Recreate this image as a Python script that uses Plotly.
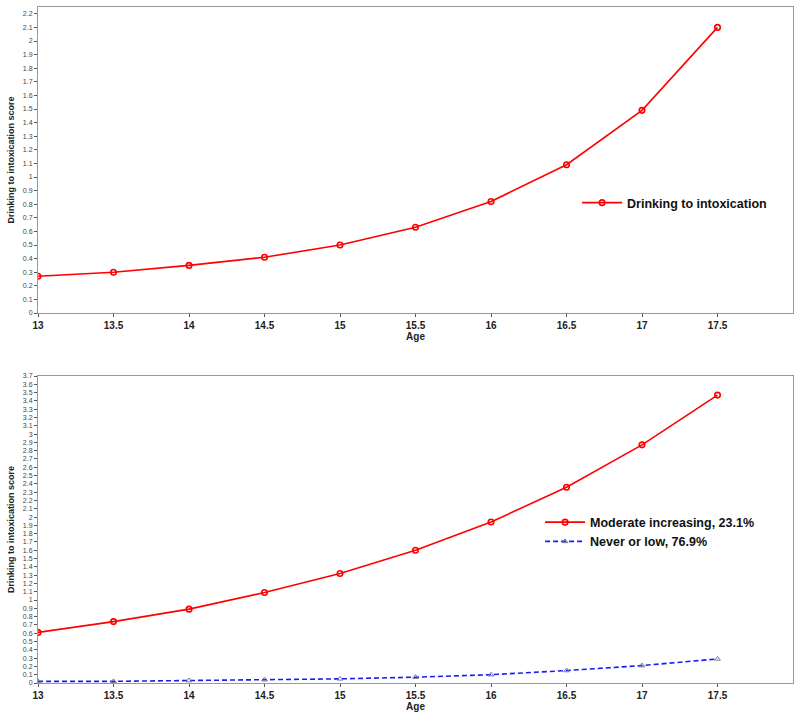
import plotly.graph_objects as go

ages = [13, 13.5, 14, 14.5, 15, 15.5, 16, 16.5, 17, 17.5]
top_scores = [0.27, 0.30, 0.35, 0.41, 0.50, 0.63, 0.82, 1.09, 1.49, 2.10]
moderate_increasing = [0.61, 0.74, 0.89, 1.09, 1.32, 1.60, 1.94, 2.36, 2.87, 3.47]
never_or_low = [0.02, 0.02, 0.03, 0.04, 0.05, 0.07, 0.10, 0.15, 0.21, 0.29]

x_ticks = [13, 13.5, 14, 14.5, 15, 15.5, 16, 16.5, 17, 17.5]
x_ticklabels = ["13", "13.5", "14", "14.5", "15", "15.5", "16", "16.5", "17", "17.5"]
top_yticks = [i / 10 for i in range(0, 23)]
bot_yticks = [i / 10 for i in range(0, 38)]

def lab(v):
    s = f"{v:.1f}"
    return s[:-2] if s.endswith(".0") else s

FONT = "Liberation Sans, Arial, sans-serif"

fig = go.Figure()
fig.add_trace(go.Scatter(
    x=ages, y=top_scores, mode="lines+markers", name="Drinking to intoxication",
    line=dict(color="#ff0000", width=1.6),
    marker=dict(symbol="circle-open", size=5.5, color="#ff0000", line=dict(width=1.6)),
    xaxis="x", yaxis="y", legend="legend"))
fig.add_trace(go.Scatter(
    x=ages, y=moderate_increasing, mode="lines+markers", name="Moderate increasing, 23.1%",
    line=dict(color="#ff0000", width=1.6),
    marker=dict(symbol="circle-open", size=5.5, color="#ff0000", line=dict(width=1.6)),
    xaxis="x2", yaxis="y2", legend="legend2"))
fig.add_trace(go.Scatter(
    x=ages, y=never_or_low, mode="lines+markers", name="Never or low, 76.9%",
    line=dict(color="#1a1aff", width=1.6, dash="5px,3px"),
    marker=dict(symbol="triangle-up-open", size=5, color="#777799", line=dict(width=1)),
    xaxis="x2", yaxis="y2", legend="legend2"))

TOP, BOT = 7.0, 683.0
PH = BOT - TOP
def dom(top_px, bot_px):
    return [1 - (bot_px - TOP) / PH, 1 - (top_px - TOP) / PH]

xcommon = dict(range=[13, 18], tickmode="array", tickvals=x_ticks, ticktext=x_ticklabels,
               showgrid=False, zeroline=False, showline=True, linecolor="#999999", linewidth=1,
               mirror=True, ticks="outside", ticklen=3, tickcolor="#555555", automargin=False,
               tickfont=dict(family=FONT, size=10, color="#222222", weight="bold"),
               title=dict(text="<b>Age</b>", font=dict(family=FONT, size=10, color="#222222"), standoff=2))
ycommon = dict(showgrid=False, zeroline=False, showline=True, linecolor="#999999", linewidth=1,
               mirror=True, ticks="outside", ticklen=3, tickcolor="#555555", automargin=False,
               tickfont=dict(family=FONT, size=7, color="#444444"),
               title=dict(text="<b>Drinking to intoxication score</b>",
                          font=dict(family=FONT, size=9, color="#222222"), standoff=6))

fig.update_layout(
    width=800, height=716,
    margin=dict(l=38, r=7, t=7, b=33, autoexpand=False),
    paper_bgcolor="white", plot_bgcolor="white",
    xaxis=dict(xcommon, domain=[0, 1], anchor="y"),
    yaxis=dict(ycommon, domain=dom(7, 313), range=[0, 2.25], anchor="x",
               tickmode="array", tickvals=top_yticks, ticktext=[lab(v) for v in top_yticks]),
    xaxis2=dict(xcommon, domain=[0, 1], anchor="y2"),
    yaxis2=dict(ycommon, domain=dom(376, 683), range=[0, 3.7], anchor="x2",
                tickmode="array", tickvals=bot_yticks, ticktext=[lab(v) for v in bot_yticks]),
    legend=dict(x=0.714, y=1 - (203 - TOP) / PH, xanchor="left", yanchor="middle",
                font=dict(family=FONT, size=12.5, color="#111111", weight="bold"),
                bgcolor="rgba(0,0,0,0)", itemwidth=40),
    legend2=dict(x=0.665, y=1 - (532 - TOP) / PH, xanchor="left", yanchor="middle",
                 font=dict(family=FONT, size=12.5, color="#111111", weight="bold"),
                 bgcolor="rgba(0,0,0,0)", itemwidth=40, tracegroupgap=4),
    showlegend=True,
)

fig.write_html("out.html", config={"displayModeBar": False},
               post_script="document.body.style.margin='0';document.body.style.overflow='hidden';")
